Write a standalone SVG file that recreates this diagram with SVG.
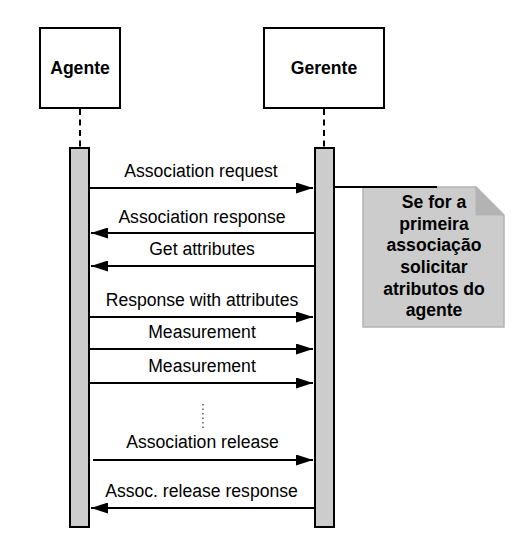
<svg xmlns="http://www.w3.org/2000/svg" width="528" height="554" viewBox="0 0 528 554">
<style>
.box{fill:#fff;stroke:#000;stroke-width:2}
.act{fill:#ccc;stroke:#000;stroke-width:2}
.life{stroke:#000;stroke-width:2;stroke-dasharray:6 4.5;fill:none}
.msg{stroke:#000;stroke-width:2;fill:none;marker-end:url(#ah)}
.lbl{font-family:"Liberation Sans",Arial,sans-serif;font-size:17.6px;fill:#000;text-anchor:middle}
.title{font-family:"Liberation Sans",Arial,sans-serif;font-size:17.6px;font-weight:bold;fill:#000;text-anchor:middle}
.note{fill:#ccc;stroke:#b3b3b3;stroke-width:1.5}
.fold{fill:#b3b3b3;stroke:#b3b3b3;stroke-width:1}
</style>
<defs>
<marker id="ah" markerUnits="userSpaceOnUse" markerWidth="17" markerHeight="11" refX="17" refY="5.5" orient="auto">
<path d="M0,0 L17,5.5 L0,11 Z" fill="#000"/>
</marker>
</defs>
<rect width="528" height="554" fill="#fff"/>
<g id="agente">
<rect class="box" x="40" y="28" width="80" height="80"/>
<text class="title" x="80" y="74">Agente</text>
<line class="life" x1="80" y1="109" x2="80" y2="147"/>
<rect class="act" x="70" y="148" width="19" height="379"/>
</g>
<g id="gerente">
<rect class="box" x="264" y="28" width="120" height="80"/>
<text class="title" x="324" y="74">Gerente</text>
<line class="life" x1="324" y1="109" x2="324" y2="147"/>
<rect class="act" x="315" y="148" width="19" height="379"/>
</g>
<g id="note">
<path class="note" d="M363,187 H476 L504,215 V327 H363 Z"/>
<path class="fold" d="M476,187 V215 H504 Z"/>
<text class="title" x="434" y="208">Se for a</text>
<text class="title" x="434" y="229.7">primeira</text>
<text class="title" x="434" y="251.4">associação</text>
<text class="title" x="434" y="273">solicitar</text>
<text class="title" x="434" y="294.7">atributos do</text>
<text class="title" x="434" y="316.4">agente</text>
</g>
<g id="connectors">
<line x1="335" y1="187" x2="437" y2="187" stroke="#000" stroke-width="2"/>
<path class="msg" d="M89,188 H313"/>
<text class="lbl" x="201" y="177">Association request</text>
<path class="msg" d="M315,233 H91"/>
<text class="lbl" x="202" y="222.5">Association response</text>
<path class="msg" d="M315,266 H91"/>
<text class="lbl" x="202" y="255">Get attributes</text>
<path class="msg" d="M89,317 H313"/>
<text class="lbl" x="202" y="306">Response with attributes</text>
<path class="msg" d="M89,349 H313"/>
<text class="lbl" x="202" y="338">Measurement</text>
<path class="msg" d="M89,383 H313"/>
<text class="lbl" x="202" y="372">Measurement</text>
<line x1="203" y1="404" x2="203" y2="429" stroke="#333" stroke-width="1.2" stroke-dasharray="1.5 3"/>
<path class="msg" d="M93,460 H313"/>
<text class="lbl" x="202.5" y="448">Association release</text>
<path class="msg" d="M316,508 H91"/>
<text class="lbl" x="201.5" y="497">Assoc. release response</text>
</g>
</svg>
